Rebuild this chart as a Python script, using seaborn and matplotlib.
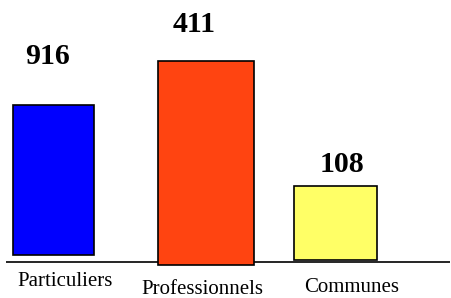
import matplotlib
matplotlib.use("Agg")
import matplotlib.pyplot as plt
import seaborn as sns

# Data
categories = ["Particuliers", "Professionnels", "Communes"]
value_labels = ["916", "411", "108"]
# visible bar tops above the baseline (the drawing is not to scale)
bar_tops = [157, 201, 76]
bar_bottoms = [7, -3, 2]

# Layout / style (pixel-like units, baseline at 0)
bar_x = [53.5, 206, 335.5]
bar_w = [81, 96, 83]
colors = ["#0000FF", "#FF4411", "#FFFF66"]
value_xy = [(48, 205), (194, 238), (342, 98)]
cat_xy = [(65, -19), (202, -27), (352, -26)]

sns.set_theme(style="white")
plt.rcParams["font.family"] = ["Liberation Serif", "DejaVu Serif"]

fig = plt.figure(figsize=(4.52, 2.98), dpi=100)
ax = fig.add_axes([0, 0, 1, 1])
ax.set_xlim(0, 452)
ax.set_ylim(-36, 262)
ax.axis("off")

heights = [t - b for t, b in zip(bar_tops, bar_bottoms)]
ax.bar(bar_x, heights, width=bar_w, bottom=bar_bottoms, color=colors,
       edgecolor="black", linewidth=1.2, zorder=3)
ax.hlines(0, 6, 450, color="black", linewidth=1.2, zorder=2)

for (x, y), lab in zip(value_xy, value_labels):
    ax.text(x, y, lab, ha="center", va="center", fontsize=21.5,
            fontweight="bold", color="black")
for (x, y), lab in zip(cat_xy, categories):
    ax.text(x, y, lab, ha="center", va="center", fontsize=15, color="black")

fig.savefig("out.png", dpi=100, facecolor="white")
